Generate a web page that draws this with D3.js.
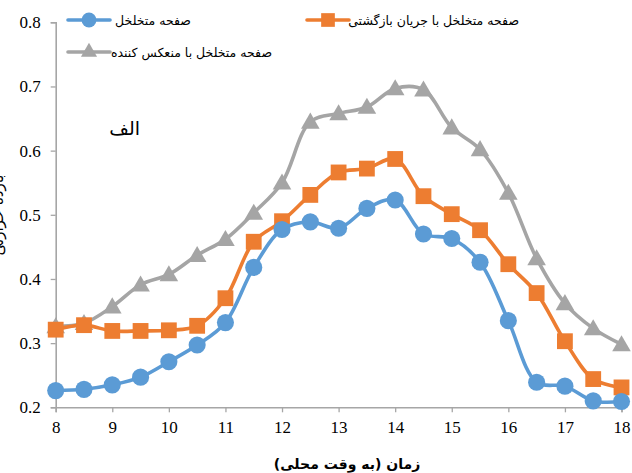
<meta charset="utf-8">
<script src="https://d3js.org/d3.v7.min.js"></script>
<style>
body { margin:0; background:white; overflow:hidden; }
text { fill:#000; }
</style>
<body>
<div id="chart"></div>
<script>

var hours = [8,8.5,9,9.5,10,10.5,11,11.5,12,12.5,13,13.5,14,14.5,15,15.5,16,16.5,17,17.5,18];
var porous = [0.226,0.228,0.235,0.247,0.271,0.297,0.332,0.418,0.477,0.489,0.479,0.510,0.523,0.470,0.463,0.426,0.335,0.239,0.233,0.210,0.209];
var porousReturn = [0.321,0.328,0.319,0.319,0.320,0.327,0.370,0.458,0.490,0.531,0.566,0.572,0.587,0.529,0.501,0.476,0.423,0.378,0.303,0.244,0.231];
var porousReflector = [0.326,0.331,0.357,0.391,0.407,0.437,0.462,0.503,0.550,0.645,0.658,0.668,0.697,0.695,0.636,0.602,0.534,0.432,0.362,0.323,0.298];
var xTicks = [8,9,10,11,12,13,14,15,16,17,18];
var yTicks = [0.2,0.3,0.4,0.5,0.6,0.7,0.8];
var seriesNames = ['صفحه متخلخل','صفحه متخلخل با جریان بازگشتی','صفحه متخلخل با منعکس کننده'];

var width = 632, height = 473;
var svg = d3.select('#chart').append('svg')
	.attr('width', width)
	.attr('height', height);

var x = d3.scaleLinear().domain([8,18]).range([55.7,621.5]);
var y = d3.scaleLinear().domain([0.2,0.8]).range([407.3,22.3]);
var axisColor = '#a6a6a6';

// axes
var xAxis = svg.append('g')
	.attr('transform','translate(0,' + y(0.2) + ')')
	.call(d3.axisBottom(x).tickValues(xTicks).tickSize(5).tickPadding(9).tickFormat(d3.format('d')));
var yAxis = svg.append('g')
	.attr('transform','translate(' + x(8) + ',0)')
	.call(d3.axisLeft(y).tickValues(yTicks).tickSize(5).tickPadding(10).tickFormat(d3.format('.1f')));

[xAxis, yAxis].forEach(function(a) {
	a.select('.domain').attr('stroke', axisColor).attr('stroke-width', 1.6);
	a.selectAll('.tick line').attr('stroke', axisColor).attr('stroke-width', 1.3);
	a.selectAll('.tick text')
		.style('font-family','"Liberation Serif", serif')
		.style('font-size','17px')
		.attr('fill','#000');
});

// series
var series = [
	{name: seriesNames[0], values: porous, color: '#5b9bd5', shape: 'circle'},
	{name: seriesNames[1], values: porousReturn, color: '#ed7d31', shape: 'square'},
	{name: seriesNames[2], values: porousReflector, color: '#a5a5a5', shape: 'triangle'}
];

var symbolType = {circle: d3.symbolCircle, square: d3.symbolSquare, triangle: d3.symbolTriangle};
var symbolSize = {circle: 230, square: 250, triangle: 150};

var line = d3.line()
	.x(function(d, i) { return x(hours[i]); })
	.y(function(d) { return y(d); })
	.curve(d3.curveCatmullRom);

// draw back to front: gray, orange, blue
series.slice().reverse().forEach(function(s) {
	var g = svg.append('g');
	g.append('path')
		.attr('d', line(s.values))
		.attr('fill','none')
		.attr('stroke', s.color)
		.attr('stroke-width', 3.6)
		.attr('stroke-linejoin','round');
	g.selectAll('path.mk')
		.data(s.values)
		.enter()
		.append('path')
		.attr('class','mk')
		.attr('d', d3.symbol().type(symbolType[s.shape]).size(symbolSize[s.shape]))
		.attr('transform', function(d, i) {
			var dy = s.shape === 'triangle' ? 1.5 : 0;
			return 'translate(' + x(hours[i]) + ',' + (y(d) + dy) + ')';
		})
		.attr('fill', s.color);
});

// legend
var legendPos = [
	{x: 68, y: 20, tx: 191},
	{x: 307, y: 20, tx: 519},
	{x: 68, y: 52, tx: 272}
];
series.forEach(function(s, i) {
	var p = legendPos[i];
	var lg = svg.append('g');
	lg.append('line')
		.attr('x1', p.x).attr('x2', p.x + 42)
		.attr('y1', p.y).attr('y2', p.y)
		.attr('stroke', s.color).attr('stroke-width', 3.6).attr('stroke-linecap','round');
	lg.append('path')
		.attr('d', d3.symbol().type(symbolType[s.shape]).size(symbolSize[s.shape] * 0.75))
		.attr('transform','translate(' + (p.x + 21) + ',' + p.y + ')')
		.attr('fill', s.color);
	lg.append('text')
		.attr('x', p.tx).attr('y', p.y + 5)
		.attr('text-anchor','end')
		.style('font-family','"DejaVu Sans", sans-serif')
		.style('font-size','12.5px')
		.text(s.name);
});

// panel label
svg.append('text')
	.attr('x', 140).attr('y', 135)
	.attr('text-anchor','end')
	.style('font-family','"DejaVu Sans", sans-serif')
	.style('font-size','19px')
	.text('الف');

// axis titles
svg.append('text')
	.attr('x', 347).attr('y', 469)
	.attr('text-anchor','middle')
	.style('font-family','"DejaVu Sans", sans-serif')
	.style('font-size','14px')
	.style('font-weight','bold')
	.text('زمان (به وقت محلی)');

// y title sits mostly outside the left edge, as in the source
svg.append('text')
	.attr('transform','translate(3,215) rotate(-90)')
	.attr('text-anchor','middle')
	.style('font-family','"DejaVu Sans", sans-serif')
	.style('font-size','15px')
	.text('بازده حرارتی');

</script>
</body>
